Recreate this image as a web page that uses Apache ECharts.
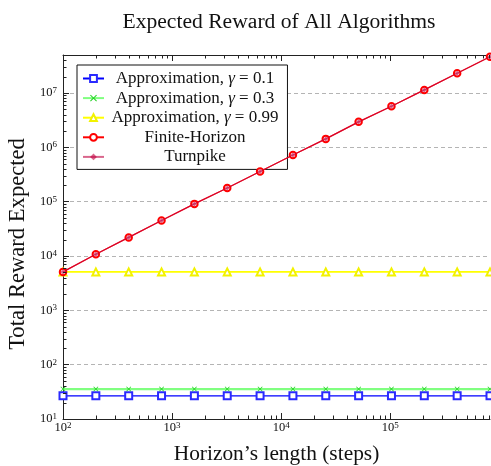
<!DOCTYPE html>
<html>
<head>
<meta charset="utf-8">
<script src="https://cdn.jsdelivr.net/npm/echarts@6/dist/echarts.min.js"></script>
<style>
  html, body { margin: 0; padding: 0; background: #fff; }
  #chart { width: 491px; height: 466px; }
</style>
</head>
<body>
<div id="chart"></div>
<script>
// Horizon lengths (steps) on the x axis
const horizons = [100, 200, 400, 800, 1600, 3200, 6400, 12800, 25600, 51200, 102400, 204800, 409600, 819200];

// Total expected reward per algorithm
const approxGamma01 = [26.7, 26.7, 26.7, 26.7, 26.7, 26.7, 26.7, 26.7, 26.7, 26.7, 26.7, 26.7, 26.7, 26.7];
const approxGamma03 = [35.5, 35.5, 35.5, 35.5, 35.5, 35.5, 35.5, 35.5, 35.5, 35.5, 35.5, 35.5, 35.5, 35.5];
const approxGamma099 = [5100, 5100, 5100, 5100, 5100, 5100, 5100, 5100, 5100, 5100, 5100, 5100, 5100, 5100];
const finiteHorizon = [5100, 10800, 22000, 45000, 91000, 178000, 360000, 720000, 1430000, 2940000, 5700000, 11400000, 23000000, 46300000];
const turnpike = [5100, 10800, 22000, 45000, 91000, 178000, 360000, 720000, 1430000, 2940000, 5700000, 11400000, 23000000, 46300000];

// Legend entries
const seriesNames = ['Approximation, γ = 0.1', 'Approximation, γ = 0.3', 'Approximation, γ = 0.99', 'Finite-Horizon', 'Turnpike'];

// Axis ranges and tick decades
const xRange = [100, 819200];
const yRange = [10, 5e7];
const xDecades = [100, 1000, 10000, 100000];
const yDecades = [10, 100, 1000, 10000, 100000, 1000000, 10000000];
const minorMultipliers = [2, 3, 4, 5, 6, 7, 8, 9];

const SERIF = '"Liberation Serif", "DejaVu Serif", serif';
const LEGEND_SIZE = 17;
const LEGEND_TEXT_WIDTH = 172;

// Measure text so legend rows can be centred like a tabular legend
const measureCtx = document.createElement('canvas').getContext('2d');
function textWidth(str, italic) {
  measureCtx.font = (italic ? 'italic ' : '') + LEGEND_SIZE + 'px ' + SERIF;
  return measureCtx.measureText(str).width;
}
function padWidth(name) {
  const gi = name.indexOf('γ');
  if (gi < 0) return 0;
  const w = textWidth(name.slice(0, gi)) + textWidth('γ', true) + textWidth(name.slice(gi + 1));
  return Math.max(0, (LEGEND_TEXT_WIDTH - w) / 2);
}

// Minor tick positions (2..9 × decade) for the log axes
const xMinorTicks = [];
xDecades.forEach(d => minorMultipliers.forEach(m => {
  if (m * d < xRange[1]) xMinorTicks.push([m * d, yRange[0], 0]);
}));
const yMinorTicks = [];
yDecades.forEach(d => minorMultipliers.forEach(m => {
  if (m * d < yRange[1]) yMinorTicks.push([xRange[0], m * d, 1]);
}));

function powLabel(v) {
  const e = Math.round(Math.log10(v));
  return '{b|10}{s|' + e + '}';
}
const powRich = {
  b: { fontFamily: SERIF, fontSize: 12.5, color: '#111', lineHeight: 14 },
  s: { fontFamily: SERIF, fontSize: 9, color: '#111', lineHeight: 14, verticalAlign: 'top', padding: [0, 0, 6, 0] }
};

function pairs(values) {
  return horizons.map((h, i) => [h, values[i]]);
}

const AXIS_COLOR = '#222';
const xCross = 'path://M0,1L1,0L5,4L9,0L10,1L6,5L10,9L9,10L5,6L1,10L0,9L4,5Z';

const chart = echarts.init(document.getElementById('chart'), null, { renderer: 'canvas' });

const legendRich = {
  c: { fontFamily: SERIF, fontSize: LEGEND_SIZE, color: '#111', width: LEGEND_TEXT_WIDTH, align: 'center' },
  a: { fontFamily: SERIF, fontSize: LEGEND_SIZE, color: '#111' },
  g: { fontFamily: SERIF, fontSize: LEGEND_SIZE, fontStyle: 'italic', color: '#111' }
};
seriesNames.forEach((n, i) => {
  const w = padWidth(n);
  if (w > 0) legendRich['p' + i] = { fontSize: 2, width: w };
});

const option = {
  backgroundColor: '#fff',
  animation: false,
  title: {
    text: 'Expected Reward of All Algorithms',
    left: 274,
    top: 6,
    textAlign: 'center',
    textStyle: { fontFamily: SERIF, fontSize: 21.6, fontWeight: 'normal', color: '#111' }
  },
  grid: { left: 63, right: 1, top: 55, bottom: 47, outerBoundsMode: 'none', containLabel: false },
  legend: {
    data: seriesNames,
    orient: 'vertical',
    left: 77,
    top: 65,
    padding: [5, 9, 4, 5],
    itemGap: 2.6,
    itemWidth: 21,
    itemHeight: 8.5,
    backgroundColor: '#fff',
    borderColor: '#111',
    borderWidth: 1,
    borderRadius: 0,
    formatter: function (name) {
      const gi = name.indexOf('γ');
      if (gi < 0) return '{c|' + name + '}';
      return '{p' + seriesNames.indexOf(name) + '| }{a|' + name.slice(0, gi) + '}{g|γ}{a|' + name.slice(gi + 1) + '}';
    },
    textStyle: { fontFamily: SERIF, fontSize: LEGEND_SIZE, color: '#111', rich: legendRich }
  },
  xAxis: [
    {
      type: 'log',
      logBase: 10,
      min: xRange[0],
      max: xRange[1],
      position: 'bottom',
      name: 'Horizon’s length (steps)',
      nameLocation: 'middle',
      nameGap: 25,
      nameTextStyle: { fontFamily: SERIF, fontSize: 21.4, color: '#111' },
      axisLine: { show: true, lineStyle: { color: AXIS_COLOR, width: 1 } },
      axisTick: { show: true, inside: true, length: 6, lineStyle: { color: AXIS_COLOR } },
      axisLabel: { margin: 2, formatter: powLabel, rich: powRich, showMaxLabel: false },
      splitLine: { show: false }
    },
    {
      type: 'log',
      logBase: 10,
      min: xRange[0],
      max: xRange[1],
      position: 'top',
      axisLine: { show: true, lineStyle: { color: AXIS_COLOR, width: 1 } },
      axisTick: { show: true, inside: true, length: 6, lineStyle: { color: AXIS_COLOR } },
      axisLabel: { show: false },
      splitLine: { show: false }
    }
  ],
  yAxis: {
    type: 'log',
    logBase: 10,
    min: yRange[0],
    max: yRange[1],
    name: 'Total Reward Expected',
    nameLocation: 'middle',
    nameGap: 33,
    nameTextStyle: { fontFamily: SERIF, fontSize: 22.6, color: '#111', padding: [0, 14, 0, 0] },
    axisLine: { show: true, lineStyle: { color: AXIS_COLOR, width: 1 } },
    axisTick: { show: true, inside: true, length: 6, lineStyle: { color: AXIS_COLOR } },
    axisLabel: { margin: 6, formatter: powLabel, rich: powRich, showMaxLabel: false },
    splitLine: { show: true, lineStyle: { color: '#b4b4b4', width: 1, type: [4, 3] } }
  },
  series: [
    {
      name: seriesNames[0],
      type: 'line',
      data: pairs(approxGamma01),
      symbol: 'emptyRect',
      symbolSize: 7,
      lineStyle: { color: '#0000ff', width: 1.2 },
      itemStyle: { color: '#2a2aff', borderWidth: 1.2 },
      z: 2
    },
    {
      name: seriesNames[1],
      type: 'line',
      data: pairs(approxGamma03),
      symbol: xCross,
      symbolSize: 5,
      lineStyle: { color: '#80ff80', width: 2.4 },
      itemStyle: { color: '#20d020' },
      z: 3
    },
    {
      name: seriesNames[2],
      type: 'line',
      data: pairs(approxGamma099),
      symbol: 'emptyTriangle',
      symbolSize: 7,
      lineStyle: { color: '#ffff00', width: 1.6 },
      itemStyle: { color: '#f2f200', borderWidth: 1.2 },
      z: 4
    },
    {
      name: seriesNames[3],
      type: 'line',
      data: pairs(finiteHorizon),
      symbol: 'emptyCircle',
      symbolSize: 6.5,
      lineStyle: { color: '#ff0000', width: 1.2 },
      itemStyle: { color: '#ff0000', borderWidth: 1.3 },
      z: 5
    },
    {
      name: seriesNames[4],
      type: 'line',
      data: pairs(turnpike),
      symbol: 'diamond',
      symbolSize: 5,
      lineStyle: { color: 'rgba(191,0,64,0.6)', width: 1.2 },
      itemStyle: { color: 'rgba(191,0,64,0.6)' },
      z: 6
    },
    {
      // Minor ticks (inward) on the bottom, top and left axes
      type: 'custom',
      silent: true,
      xAxisIndex: 0,
      yAxisIndex: 0,
      encode: { x: 0, y: 1 },
      data: xMinorTicks.concat(yMinorTicks),
      clip: false,
      z: 10,
      renderItem: function (params, api) {
        const v0 = api.value(0);
        const v1 = api.value(1);
        const kind = api.value(2);
        const style = { stroke: AXIS_COLOR, lineWidth: 1 };
        if (kind === 0) {
          const b = api.coord([v0, yRange[0]]);
          const t = api.coord([v0, yRange[1]]);
          const x = Math.round(b[0]) + 0.5;
          return {
            type: 'group',
            children: [
              { type: 'line', shape: { x1: x, y1: b[1], x2: x, y2: b[1] - 3.5 }, style: style },
              { type: 'line', shape: { x1: x, y1: t[1], x2: x, y2: t[1] + 3.5 }, style: style }
            ]
          };
        }
        const p = api.coord([xRange[0], v1]);
        const y = Math.round(p[1]) + 0.5;
        return { type: 'line', shape: { x1: p[0], y1: y, x2: p[0] + 3.5, y2: y }, style: style };
      }
    }
  ]
};

chart.setOption(option);
</script>
</body>
</html>
